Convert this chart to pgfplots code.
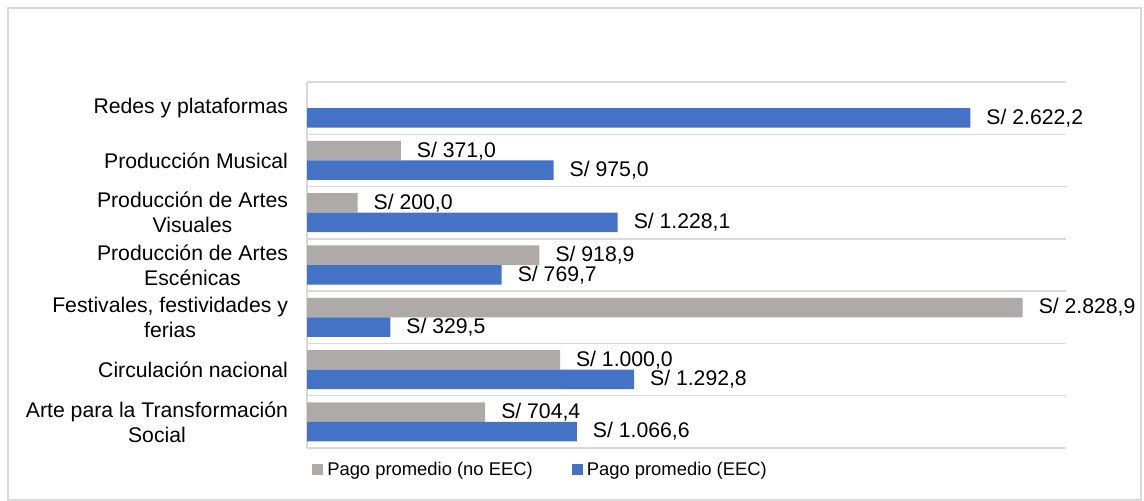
\documentclass[border=0pt]{standalone}
\usepackage{fontspec}
\setmainfont{Liberation Sans}
\usepackage{pgfplots}
\pgfplotsset{compat=1.18}
\definecolor{eecblue}{HTML}{4472C4}
\definecolor{noeecgray}{HTML}{AEAAAA}
\definecolor{gridgray}{HTML}{D9D9D9}
\begin{document}
\begin{tikzpicture}
\path[use as bounding box] (0,0) rectangle (572pt,250.5pt);
\draw[gridgray, line width=0.75pt] (4pt,0.5pt) rectangle (570.5pt,246.5pt);
\begin{axis}[
  at={(153.5pt,26.5pt)}, anchor=south west,
  scale only axis, width=379.5pt, height=183pt,
  xbar, xmin=0, xmax=3000,
  ymin=-0.5, ymax=6.5,
  axis x line*=bottom, x axis line style={draw=none},
  axis y line*=left, y axis line style={draw=gridgray, line width=0.75pt, -},
  xtick=\empty,
  ytick={0,1,2,3,4,5,6},
  yticklabels={{Arte para la Transformación\\Social},{Circulación nacional},{Festivales, festividades y\\ferias},{Producción de Artes\\Escénicas},{Producción de Artes\\Visuales},{Producción Musical},{Redes y plataformas}},
  yticklabel style={align=center, font=\fontsize{10.6}{12.5}\selectfont, xshift=-6pt},
  minor ytick={-0.5,0.5,1.5,2.5,3.5,4.5,5.5,6.5},
  yminorgrids, minor grid style={draw=gridgray, line width=0.75pt},
  major tick length=0pt, minor tick length=0pt,
  /pgf/number format/.cd, fixed, fixed zerofill, precision=1, use comma, 1000 sep={.}, assume math mode=true,
  /pgfplots/.cd,
  nodes near coords={S/ \pgfmathprintnumber{\pgfplotspointmeta}},
  nodes near coords style={font=\fontsize{10.6}{12.5}\selectfont, anchor=west, xshift=4.5pt, text=black},
  legend style={at={(0.309,-0.06)}, anchor=center, draw=none, fill=none,
    font=\fontsize{9.2}{11}\selectfont, legend columns=2,
    /tikz/every even column/.append style={column sep=17.5pt}},
  legend image code/.code={\fill[#1] (0pt,-2.75pt) rectangle (5.5pt,2.75pt);},
]
\addplot[fill=noeecgray, draw=none, bar width=0.373, bar shift=0.1865]
  coordinates {(704.4,0) (1000.0,1) (2828.9,2) (918.9,3) (200.0,4) (371.0,5)};
\addplot[fill=eecblue, draw=none, bar width=0.373, bar shift=-0.1865]
  coordinates {(1066.6,0) (1292.8,1) (329.5,2) (769.7,3) (1228.1,4) (975.0,5) (2622.2,6)};
\legend{Pago promedio (no EEC), Pago promedio (EEC)}
\end{axis}
\end{tikzpicture}
\end{document}
